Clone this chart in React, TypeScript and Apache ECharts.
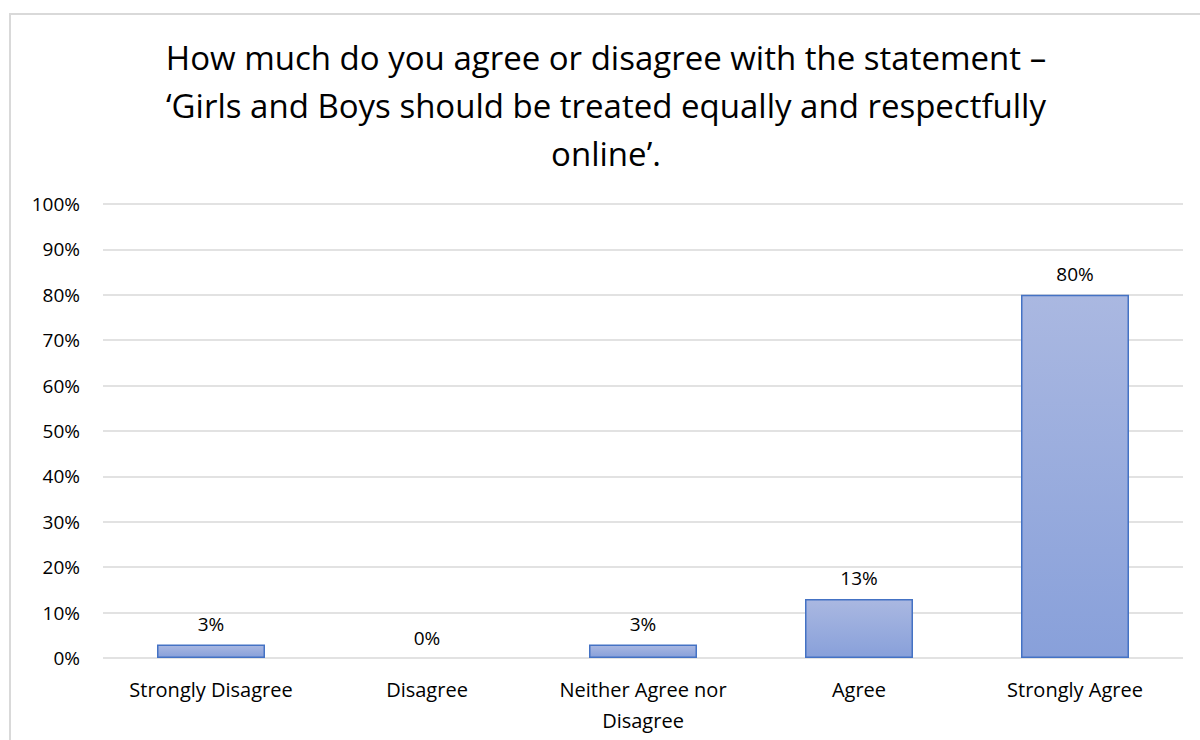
import React, { useEffect, useRef } from "react";
import * as echarts from "echarts";

const categories = ["Strongly Disagree", "Disagree", "Neither Agree nor Disagree", "Agree", "Strongly Agree"];
const values = [3, 0, 3, 13, 80];
const titleLines = [
  "How much do you agree or disagree with the statement –",
  "‘Girls and Boys should be treated equally and respectfully",
  "online’.",
];

export default function App() {
  const ref = useRef<HTMLDivElement>(null);
  useEffect(() => {
    if (!ref.current) return;
    const chart = echarts.init(ref.current, null, { renderer: "svg" });
    const font = "'Open Sans', sans-serif";
    chart.setOption({
      animation: false,
      backgroundColor: "#ffffff",
      title: {
        text: titleLines.join("\n"),
        left: 601,
        textAlign: "center",
        top: 28,
        textStyle: { fontFamily: font, fontSize: 33, fontWeight: "normal", color: "#000000", lineHeight: 48 },
      },
      graphic: [
        {
          type: "rect",
          shape: { x: 10, y: 14, width: 1200, height: 740 },
          style: { fill: "none", stroke: "#d9d9d9", lineWidth: 2 },
          silent: true,
        },
      ],
      grid: { left: 103, right: 17, top: 204, bottom: 82, containLabel: false },
      xAxis: {
        type: "category",
        data: categories,
        axisLine: { show: false },
        axisTick: { show: false },
        axisLabel: {
          interval: 0,
          margin: 16,
          fontFamily: font,
          fontSize: 20,
          color: "#000000",
          lineHeight: 31,
          formatter: (v: string) => (v === "Neither Agree nor Disagree" ? "Neither Agree nor\nDisagree" : v),
        },
      },
      yAxis: {
        type: "value",
        min: 0,
        max: 100,
        interval: 10,
        axisLine: { show: false },
        axisTick: { show: false },
        splitLine: { lineStyle: { color: "#d9d9d9", width: 1.5 } },
        axisLabel: { formatter: "{value}%", fontFamily: font, fontSize: 19, color: "#000000", margin: 23 },
      },
      series: [
        {
          type: "bar",
          data: values.map((v) => ({
            value: v,
            itemStyle: v === 0 ? { borderWidth: 0 } : undefined,
          })),
          barWidth: "50%",
          itemStyle: {
            color: new echarts.graphic.LinearGradient(0, 0, 0, 1, [
              { offset: 0, color: "#aab8e1" },
              { offset: 1, color: "#88a0da" },
            ]),
            borderColor: "#4472c4",
            borderWidth: 1.5,
          },
          label: {
            show: true,
            position: "top",
            distance: 11,
            formatter: "{c}%",
            fontFamily: font,
            fontSize: 19,
            color: "#000000",
          },
        },
      ],
    });
    return () => chart.dispose();
  }, []);
  return <div ref={ref} style={{ position: "absolute", left: 0, top: 0, width: 1200, height: 740 }} />;
}
